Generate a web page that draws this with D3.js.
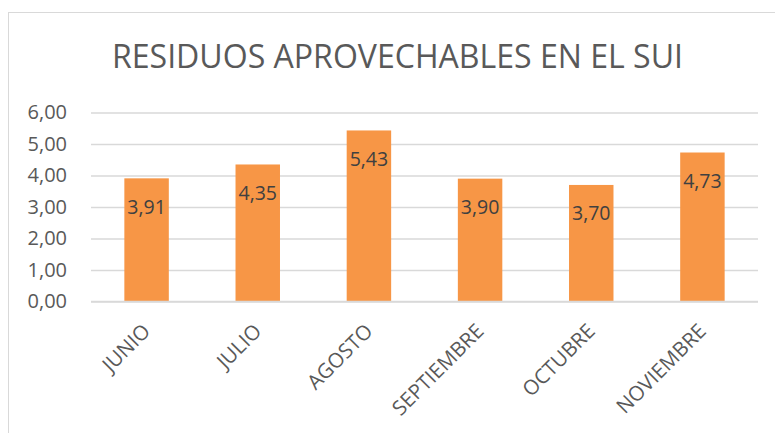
<!DOCTYPE html>
<html>
<head>
<meta charset="utf-8">
<script src="https://cdn.jsdelivr.net/npm/d3@7"></script>
<style>
  html, body { margin: 0; padding: 0; background: #fff; }
  svg { display: block; font-family: "Open Sans", sans-serif; }
</style>
</head>
<body>
<svg id="chart" width="775" height="433"></svg>
<script>
const title = "RESIDUOS APROVECHABLES EN EL SUI";
const categories = ["JUNIO", "JULIO", "AGOSTO", "SEPTIEMBRE", "OCTUBRE", "NOVIEMBRE"];
const values = [3.91, 4.35, 5.43, 3.90, 3.70, 4.73];
const yTicks = [0, 1, 2, 3, 4, 5, 6];

const svg = d3.select("#chart");
const W = 775, H = 433;
const plot = { left: 91, right: 758, top: 112.5, bottom: 301.5 };
const fmt = v => d3.format(".2f")(v).replace(".", ",");

// chart area border
svg.append("rect")
  .attr("x", 8.5).attr("y", 12.5)
  .attr("width", W + 10).attr("height", H + 10)
  .attr("fill", "#fff").attr("stroke", "#d9d9d9").attr("stroke-width", 1);

// title
svg.append("text")
  .attr("x", 112).attr("y", 68)
  .attr("textLength", 571).attr("lengthAdjust", "spacingAndGlyphs")
  .attr("font-size", 32).attr("font-weight", 400)
  .attr("fill", "#595959")
  .text(title);

const x = d3.scaleBand().domain(categories).range([plot.left, plot.right]).paddingInner(0.6).paddingOuter(0.3);
const y = d3.scaleLinear().domain([0, 6]).range([plot.bottom, plot.top]);

// gridlines
const yAxis = d3.axisLeft(y).tickValues(yTicks).tickSize(-(plot.right - plot.left)).tickFormat(fmt).tickPadding(24);
const gy = svg.append("g").attr("transform", `translate(${plot.left},0)`).call(yAxis);
gy.select(".domain").remove();
gy.selectAll(".tick line").attr("stroke", "#d9d9d9").attr("stroke-width", 1.3);
gy.selectAll(".tick text").attr("font-size", 20).attr("fill", "#595959")
  .attr("font-family", "'Open Sans', sans-serif");

// bars
svg.append("g").selectAll("rect").data(values).join("rect")
  .attr("x", (d, i) => x(categories[i]))
  .attr("y", d => y(d))
  .attr("width", x.bandwidth())
  .attr("height", d => y(0) - y(d))
  .attr("fill", "#f79646");

// x axis line
const xAxis = d3.axisBottom(x).tickSize(0).tickPadding(0);
const gx = svg.append("g").attr("transform", `translate(0,${plot.bottom})`).call(xAxis);
gx.select(".domain").attr("stroke", "#d9d9d9").attr("stroke-width", 1.5)
  .attr("d", `M${plot.left},0H${plot.right}`);
gx.selectAll(".tick text")
  .attr("font-size", 20.5).attr("fill", "#595959")
  .attr("font-family", "'Open Sans', sans-serif")
  .attr("text-anchor", "end")
  .attr("dy", null).attr("y", 0)
  .attr("transform", "translate(5,31) rotate(-45)");

// data labels
svg.append("g").selectAll("text").data(values).join("text")
  .attr("x", (d, i) => x(categories[i]) + x.bandwidth() / 2)
  .attr("y", d => y(d) + 35.5)
  .attr("text-anchor", "middle")
  .attr("font-size", 19.5).attr("fill", "#404040")
  .text(d => fmt(d));
</script>
</body>
</html>
